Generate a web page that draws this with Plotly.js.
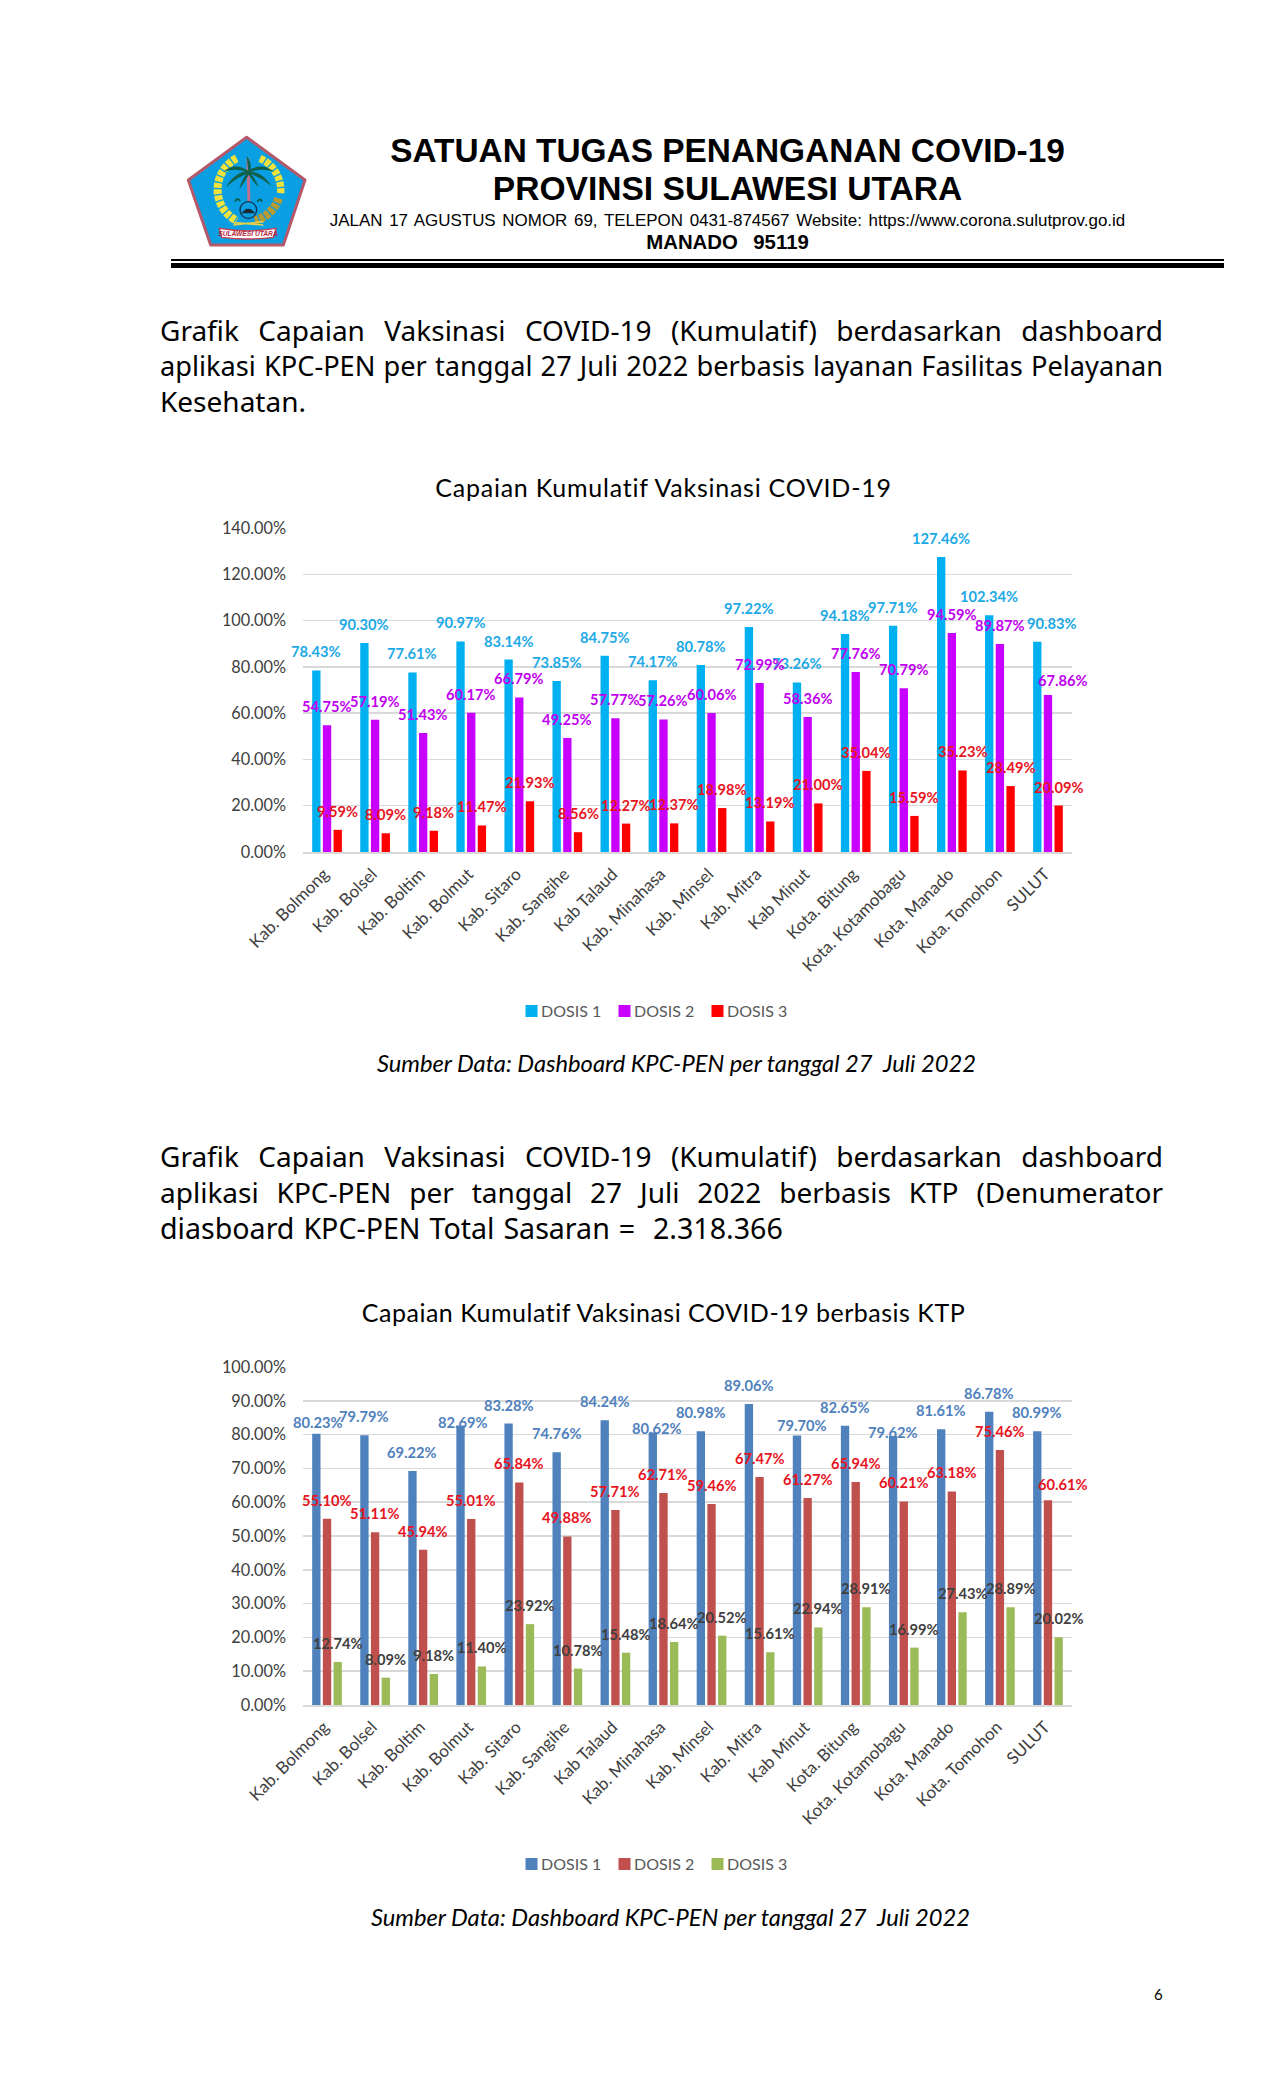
<!DOCTYPE html>
<html><head><meta charset="utf-8">
<script src="https://cdn.plot.ly/plotly-3.0.0.min.js"></script>
<style>
html,body{margin:0;padding:0;background:#fff}
#page{position:relative;width:1275px;height:2100px;overflow:hidden;background:#fff}
.t{position:absolute;white-space:nowrap;transform:translateY(-50%);color:#000}
.c{left:0;width:1275px;text-align:center}
.hd{font-family:"Liberation Sans",Arial,sans-serif}
.body{font-family:"Noto Sans",sans-serif;font-size:28px;left:160px;width:1003px;text-align:justify;text-align-last:justify;white-space:normal}
.last{text-align-last:left}
.cap{font-family:Lato,sans-serif;font-style:italic;font-size:23.7px}
.rule{position:absolute;left:171px;width:1053px;background:#000}
.plot{position:absolute;left:0}
#chart1 .gtitle{letter-spacing:0.75px}
#chart2 .gtitle{letter-spacing:0.5px}
</style></head><body><div id="page">

<svg style="position:absolute;left:180px;top:130px" width="135" height="125" viewBox="0 0 405 375">
<polygon points="200,22 375,150 310,345 92,345 25,150" fill="#0A9FE3" stroke="#B5586A" stroke-width="9" stroke-linejoin="round"/>
<path d="M170,85 A105,105 0 0 0 170,272" fill="none" stroke="#F2E23C" stroke-width="24" stroke-dasharray="15 4"/>
<path d="M240,85 A105,105 0 0 1 302,190" fill="none" stroke="#F2E23C" stroke-width="22" stroke-dasharray="15 4"/>
<path d="M296,205 A105,105 0 0 1 225,272" fill="none" stroke="#B89A2E" stroke-width="26" stroke-dasharray="14 4"/>
<path d="M204,85 L207,225" stroke="#C2708F" stroke-width="9" fill="none"/>
<g fill="#10604A">
<path d="M205,122 Q165,95 130,125 Q170,112 205,128 Z"/>
<path d="M205,124 Q165,125 138,172 Q172,140 207,130 Z"/>
<path d="M205,126 Q185,145 178,178 Q198,150 209,130 Z"/>
<path d="M205,122 Q245,95 282,125 Q242,112 207,128 Z"/>
<path d="M205,124 Q248,125 274,168 Q240,140 205,130 Z"/>
<path d="M207,126 Q228,145 236,172 Q216,150 203,130 Z"/>
<path d="M205,124 L200,78 Q216,95 211,124 Z"/>
</g>
<circle cx="205" cy="240" r="25" fill="#0A9FE3" stroke="#11334A" stroke-width="4"/>
<path d="M184,250 Q205,222 226,250 Z" fill="#1A2A33"/>
<path d="M165,215 q6,-14 16,-2 M232,215 q8,-14 14,0" stroke="#0E5A3E" stroke-width="5" fill="none"/>
<path d="M160,278 L250,285 M250,275 L160,285" stroke="#E5D24A" stroke-width="5"/>
<path d="M118,295 Q205,310 288,295 L280,322 Q205,332 125,322 Z" fill="#fff" stroke="#C93C4C" stroke-width="4"/>
<text x="204" y="318" text-anchor="middle" font-family="Liberation Sans" font-style="italic" font-weight="bold" font-size="20" fill="#B4243A">SULAWESI UTARA</text>
</svg>

<div class="t c hd" style="top:150.5px;font-size:33.4px;font-weight:bold;left:90px">SATUAN TUGAS PENANGANAN COVID-19</div>
<div class="t c hd" style="top:189px;font-size:33.6px;font-weight:bold;left:90px">PROVINSI SULAWESI UTARA</div>
<div class="t c hd" style="top:221px;font-size:16.95px;left:90px;word-spacing:2px">JALAN 17 AGUSTUS NOMOR 69, TELEPON 0431-874567 Website: https://www.corona.sulutprov.go.id</div>
<div class="t c hd" style="top:242px;font-size:20.4px;font-weight:bold;left:90px;word-spacing:2px">MANADO &nbsp;95119</div>
<div class="rule" style="top:259px;height:2px"></div>
<div class="rule" style="top:263px;height:5px"></div>

<div class="t body" style="top:329.5px">Grafik Capaian Vaksinasi COVID-19 (Kumulatif) berdasarkan dashboard</div>
<div class="t body" style="top:364.5px;font-size:27.2px">aplikasi KPC-PEN per tanggal 27 Juli 2022 berbasis layanan Fasilitas Pelayanan</div>
<div class="t body last" style="top:400.5px">Kesehatan.</div>

<div id="chart1" class="plot" style="top:460px"></div>
<div class="t c cap" style="top:1063px;left:39px">Sumber Data: Dashboard KPC-PEN per tanggal 27 &nbsp;Juli 2022</div>

<div class="t body" style="top:1156px">Grafik Capaian Vaksinasi COVID-19 (Kumulatif) berdasarkan dashboard</div>
<div class="t body" style="top:1192px">aplikasi KPC-PEN per tanggal 27 Juli 2022 berbasis KTP (Denumerator</div>
<div class="t body last" style="top:1227px;font-size:28.6px;word-spacing:1.5px">diasboard KPC-PEN Total Sasaran = &nbsp;2.318.366</div>

<div id="chart2" class="plot" style="top:1290px"></div>
<div class="t c cap" style="top:1917px;left:33px">Sumber Data: Dashboard KPC-PEN per tanggal 27 &nbsp;Juli 2022</div>

<div class="t" style="left:1154px;top:1994px;font-family:Lato,sans-serif;font-size:15px">6</div>
</div>
<script>
const categories = ["Kab. Bolmong","Kab. Bolsel","Kab. Boltim","Kab. Bolmut","Kab. Sitaro","Kab. Sangihe","Kab Talaud","Kab. Minahasa","Kab. Minsel","Kab. Mitra","Kab Minut","Kota. Bitung","Kota. Kotamobagu","Kota. Manado","Kota. Tomohon","SULUT"];
const seriesNames = ["DOSIS 1","DOSIS 2","DOSIS 3"];

const layananDosis1 = [78.43,90.30,77.61,90.97,83.14,73.85,84.75,74.17,80.78,97.22,73.26,94.18,97.71,127.46,102.34,90.83];
const layananDosis2 = [54.75,57.19,51.43,60.17,66.79,49.25,57.77,57.26,60.06,72.99,58.36,77.76,70.79,94.59,89.87,67.86];
const layananDosis3 = [9.59,8.09,9.18,11.47,21.93,8.56,12.27,12.37,18.98,13.19,21.00,35.04,15.59,35.23,28.49,20.09];

const ktpDosis1 = [80.23,79.79,69.22,82.69,83.28,74.76,84.24,80.62,80.98,89.06,79.70,82.65,79.62,81.61,86.78,80.99];
const ktpDosis2 = [55.10,51.11,45.94,55.01,65.84,49.88,57.71,62.71,59.46,67.47,61.27,65.94,60.21,63.18,75.46,60.61];
const ktpDosis3 = [12.74,8.09,9.18,11.40,23.92,10.78,15.48,18.64,20.52,15.61,22.94,28.91,16.99,27.43,28.89,20.02];

const FONT = 'Lato, sans-serif';
const BAR_STEP = 10.67, LABEL_RISE = 19;

function drawChart(id, o) {
  const traces = o.series.map((vals, s) => ({
    type: 'bar', name: seriesNames[s], x: categories, y: vals,
    marker: {color: o.colors[s]}, hoverinfo: 'x+y'
  }));
  const annotations = [];
  o.series.forEach((vals, s) => vals.forEach((v, i) => {
    const adj = (o.nudge[s] && o.nudge[s][i]) || [0, LABEL_RISE];
    annotations.push({
      xref: 'x', yref: 'y', x: categories[i], y: v,
      text: v.toFixed(2) + '%', showarrow: false,
      xanchor: 'center', yanchor: 'middle',
      xshift: (s - 1) * BAR_STEP + adj[0], yshift: adj[1],
      font: {family: FONT, size: 14.7, color: o.labelColors[s], weight: 700}
    });
  }));
  return Plotly.newPlot(id, traces, {
    width: 1275, height: o.height,
    margin: {l: 303, r: 203, t: o.top, b: o.height - o.top - o.plotH, pad: 0},
    paper_bgcolor: '#fff', plot_bgcolor: '#fff',
    barmode: 'group', bargap: 0.333, bargroupgap: 0.22,
    showlegend: true,
    title: {text: o.title, x: 663.5/1275, xanchor: 'center', xref: 'container',
            y: 1 - o.titleY/o.height, yanchor: 'middle', yref: 'container',
            font: {family: FONT, size: 25, color: '#000'}},
    legend: {orientation: 'h', x: 651/1275, xref: 'container', xanchor: 'center', y: 1 - o.legendY/o.height, yref: 'container', yanchor: 'middle',
             font: {family: FONT, size: 16, color: '#595959'}, entrywidth: 48, entrywidthmode: 'pixels', itemclick: false},
    xaxis: {type: 'category', range: [-0.5, 15.5], tickangle: -45, tickfont: {family: FONT, size: 17, color: '#404040'},
            ticklabelstandoff: 4, ticklabelshift: -3,
            showgrid: false, showline: true, linecolor: '#D9D9D9', linewidth: 1.5, ticks: '', automargin: false},
    yaxis: {range: [0, o.yMax], dtick: o.dtick, tickformat: '.2f', ticksuffix: '%',
            tickfont: {family: FONT, size: 16.3, color: '#404040'}, gridcolor: '#D9D9D9', gridwidth: 1.5,
            zeroline: false, ticks: '', ticklabelstandoff: 16, automargin: false},
    annotations
  }, {displayModeBar: false, staticPlot: true}).then(gd => {
    gd.querySelectorAll('.legendtext').forEach(t => t.setAttribute('x', 29.5));
  });
}

drawChart('chart1', {
  title: 'Capaian Kumulatif Vaksinasi COVID-19', titleY: 28,
  series: [layananDosis1, layananDosis2, layananDosis3],
  colors: ['#00B0F0','#C800FF','#FF0000'],
  labelColors: ['#1CA9E6','#C000F0','#E8141E'],
  yMax: 140, dtick: 20, height: 580, top: 68, plotH: 324, legendY: 551,
  nudge: {0: {15: [14.6, 19]}, 1: {15: [15, 14.6]}}
});
drawChart('chart2', {
  title: 'Capaian Kumulatif Vaksinasi COVID-19 berbasis KTP', titleY: 23,
  series: [ktpDosis1, ktpDosis2, ktpDosis3],
  colors: ['#4F81BD','#C0504D','#9BBB59'],
  labelColors: ['#4F81BD','#E8141E','#404040'],
  yMax: 100, dtick: 10, height: 600, top: 77, plotH: 338, legendY: 574,
  nudge: {0: {0: [2, 12], 3: [2, 4], 7: [4, 4.6], 10: [5, 11], 12: [0, 3.6]}, 1: {15: [15, 16.6]}}
});
</script>
</body></html>
